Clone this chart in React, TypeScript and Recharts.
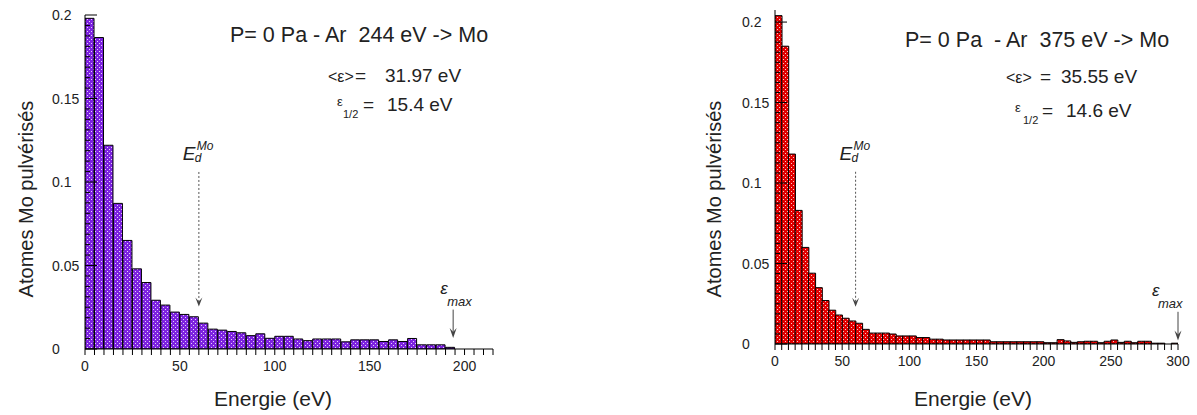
import { Bar, BarChart, ReferenceLine, XAxis, YAxis } from 'recharts';

const binWidth = 5;
const yMinorStep = 0.00625;
const yMajorLabels = ['0', '0.05', '0.1', '0.15', '0.2'];
const edEnergy = 60;

// Ar 244 eV -> Mo, fraction per 5 eV bin
const leftCounts = [
  0.198, 0.1865, 0.122, 0.0872, 0.065, 0.048, 0.0398, 0.0292, 0.0263, 0.0221,
  0.0207, 0.0193, 0.0155, 0.0119, 0.0113, 0.0105, 0.0097, 0.008, 0.0091, 0.0064,
  0.0076, 0.0076, 0.006, 0.005, 0.006, 0.006, 0.006, 0.0043, 0.0055, 0.0055,
  0.0055, 0.0045, 0.0055, 0.0045, 0.0063, 0.0025, 0.0025, 0.0025, 0.001,
];
const leftXLabels = [0, 50, 100, 150, 200];

// Ar 375 eV -> Mo
const rightCounts = [
  0.204, 0.185, 0.118, 0.083, 0.06, 0.044, 0.035, 0.027, 0.021, 0.018,
  0.016, 0.0143, 0.0129, 0.0091, 0.0068, 0.0068, 0.0068, 0.0062, 0.005, 0.005,
  0.005, 0.004, 0.004, 0.003, 0.003, 0.0025, 0.0025, 0.0025, 0.0025, 0.0025,
  0.0025, 0.0025, 0.0014, 0.0014, 0.0014, 0.0014, 0.0014, 0.0014, 0.0014, 0.0014,
  0.0008, 0.0008, 0.0027, 0.0019, 0.001, 0.0014, 0.0017, 0.0017, 0.0008, 0.0017,
  0.0025, 0.001, 0.0017, 0.0008, 0.0017, 0.0017, 0.0005, 0.0005, 0, 0.0005,
];
const rightXLabels = [0, 50, 100, 150, 200, 250, 300];

const ink = '#222';

const YTick = (props: any) => {
  const { x, y, index } = props;
  const major = index % 8 === 0;
  return (
    <g>
      <line x1={x} x2={x + (major ? 12 : 5)} y1={y} y2={y} stroke="#000" />
      {major && (
        <text x={x - 33} y={y} dy={5} fontSize={14} fill={ink} textAnchor="start">
          {yMajorLabels[index / 8]}
        </text>
      )}
    </g>
  );
};

function Histogram(p: any) {
  const data = p.counts.map((v: number, i: number) => ({ e: i * binWidth + binWidth / 2, v }));
  const xTicks = Array.from({ length: p.xMax / binWidth + 1 }, (_, i) => i * binWidth);
  const yTicks = Array.from({ length: 33 }, (_, i) => i * yMinorStep);
  const n = p.notes;

  const edShape = (s: any) => (
    <g>
      <line x1={s.x1} y1={s.y1} x2={s.x2} y2={s.y2 - 5} stroke="#555" strokeDasharray="2 2" />
      <path d={`M${s.x2 - 3.5},${s.y2 - 9} L${s.x2},${s.y2} L${s.x2 + 3.5},${s.y2 - 9} L${s.x2},${s.y2 - 5} Z`} fill="#444" />
      <text x={s.x1 - 16} y={s.y1 - 12} fontSize={19} fontStyle="italic" fill={ink}>E</text>
      <text x={s.x1 - 4} y={s.y1 - 10} fontSize={12} fontStyle="italic" fill={ink}>d</text>
      <text x={s.x1 - 2} y={s.y1 - 22} fontSize={12} fontStyle="italic" fill={ink}>Mo</text>
    </g>
  );

  const emaxShape = (s: any) => (
    <g>
      <line x1={s.x1} y1={s.y1} x2={s.x2} y2={s.y2 - 6} stroke="#444" />
      <path d={`M${s.x2 - 3.5},${s.y2 - 10} L${s.x2},${s.y2} L${s.x2 + 3.5},${s.y2 - 10} L${s.x2},${s.y2 - 6} Z`} fill="#444" />
      <text x={s.x1 + p.emaxDx[0]} y={s.y1 - 16} fontSize={17} fontStyle="italic" fill={ink}>ε</text>
      <text x={s.x1 + p.emaxDx[1]} y={s.y1 - 4} fontSize={13} fontStyle="italic" fill={ink}>max</text>
    </g>
  );

  return (
    <BarChart width={p.width} height={415} data={data} margin={p.margin} barCategoryGap={0} barGap={0}>
      <defs>
        <pattern id={p.id} width={4} height={4} patternUnits="userSpaceOnUse">
          <rect width={4} height={4} fill={p.color} />
          <rect x={1} y={1} width={1} height={1} fill="#fff" opacity={0.8} />
          <rect x={3} y={3} width={1} height={1} fill="#fff" opacity={0.8} />
        </pattern>
      </defs>
      <XAxis
        type="number"
        dataKey="e"
        domain={[0, p.xMax]}
        ticks={xTicks}
        interval={0}
        tickSize={6}
        tickMargin={6}
        height={60}
        stroke="#000"
        tick={{ fontSize: 14, fill: ink }}
        tickFormatter={(v: number) => (p.xLabels.includes(v) ? String(v) : '')}
        allowDataOverflow
      />
      <YAxis
        type="number"
        domain={[0, p.yMax]}
        ticks={yTicks}
        interval={0}
        width={45}
        tickSize={0}
        tickMargin={0}
        tickLine={false}
        stroke="#000"
        tick={(t: any) => <YTick {...t} />}
        allowDataOverflow
      />
      <Bar dataKey="v" fill={`url(#${p.id})`} stroke="#000" strokeWidth={1} isAnimationActive={false} />
      <ReferenceLine segment={[{ x: edEnergy, y: p.edY[0] }, { x: edEnergy, y: p.edY[1] }]} shape={edShape} />
      <ReferenceLine segment={[{ x: p.emax, y: p.emaxY[0] }, { x: p.emax, y: p.emaxY[1] }]} shape={emaxShape} />

      <text x={n.titleX} y={n.titleY} fontSize={21.5} fill={ink} style={{ whiteSpace: 'pre' }}>{n.title}</text>
      <text x={n.meanX[0]} y={n.meanY} fontSize={16} fill={ink}>{'<ε>'}</text>
      <text x={n.meanX[1]} y={n.meanY} fontSize={19} fill={ink}>=</text>
      <text x={n.meanX[2]} y={n.meanY} fontSize={19} fill={ink}>{n.mean}</text>
      <text x={n.halfX[0]} y={n.halfY - 5} fontSize={13} fill={ink}>ε</text>
      <text x={n.halfX[1]} y={n.halfY + 7} fontSize={11} fill={ink}>1/2</text>
      <text x={n.halfX[2]} y={n.halfY} fontSize={19} fill={ink}>=</text>
      <text x={n.halfX[3]} y={n.halfY} fontSize={19} fill={ink}>{n.half}</text>

      <text x={n.xLabelX} y={406} fontSize={21} fill={ink} textAnchor="middle">Energie (eV)</text>
      <text x={n.yLabelX} y={199} fontSize={20} fill={ink} textAnchor="middle" transform={`rotate(-90 ${n.yLabelX} 199)`}>
        Atomes Mo pulvérisés
      </text>
    </BarChart>
  );
}

export default function App() {
  return (
    <div style={{ position: 'absolute', left: 0, top: 0, width: 1197, height: 415, background: '#fff', fontFamily: '"Liberation Sans", Arial, sans-serif' }}>
      <div style={{ position: 'absolute', left: 0, top: 0 }}>
        <Histogram
          id="dotsPurple"
          color="#7d22e0"
          counts={leftCounts}
          xMax={215}
          xLabels={leftXLabels}
          yMax={0.2}
          width={520}
          margin={{ top: 15, right: 27, bottom: 6, left: 40 }}
          edY={[0.106, 0.0254]}
          emax={194}
          emaxY={[0.0236, 0.0066]}
          emaxDx={[-13, -6]}
          notes={{
            title: 'P= 0 Pa - Ar  244 eV -> Mo', titleX: 230, titleY: 42,
            mean: '31.97 eV', meanX: [328, 355, 385], meanY: 82,
            half: '15.4 eV', halfX: [337, 343, 363, 387], halfY: 111,
            xLabelX: 273, yLabelX: 33,
          }}
        />
      </div>
      <div style={{ position: 'absolute', left: 680, top: 0 }}>
        <Histogram
          id="dotsRed"
          color="#e20000"
          counts={rightCounts}
          xMax={300}
          xLabels={rightXLabels}
          yMax={0.2075}
          width={517}
          margin={{ top: 10, right: 19, bottom: 11, left: 50 }}
          edY={[0.107, 0.0232]}
          emax={300}
          emaxY={[0.02, 0.0022]}
          emaxDx={[-26, -20]}
          notes={{
            title: 'P= 0 Pa  - Ar  375 eV -> Mo', titleX: 225, titleY: 47,
            mean: '35.55 eV', meanX: [326, 360, 381], meanY: 83,
            half: '14.6 eV', halfX: [335, 343, 362, 386], halfY: 117,
            xLabelX: 293, yLabelX: 41,
          }}
        />
      </div>
    </div>
  );
}
